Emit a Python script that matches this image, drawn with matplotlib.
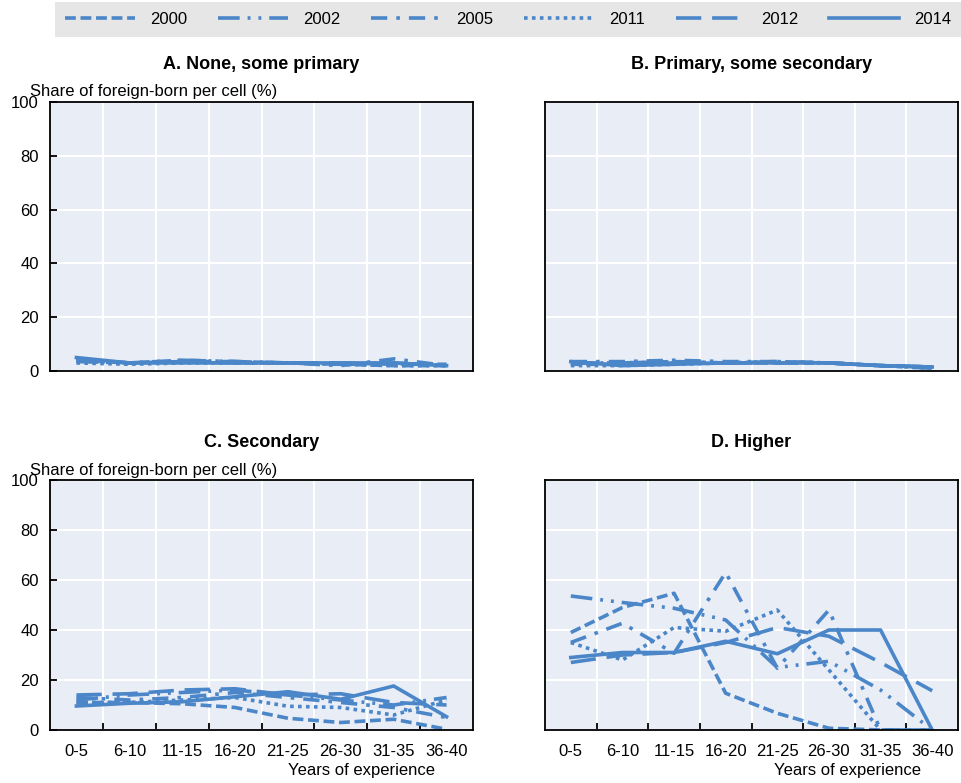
import matplotlib
matplotlib.use('Agg')
import matplotlib.pyplot as plt
import numpy as np

plt.rcParams['font.family'] = ['Liberation Sans Narrow', 'Liberation Sans', 'DejaVu Sans']
plt.rcParams['font.size'] = 12

# experience categories
categories = ['0-5', '6-10', '11-15', '16-20', '21-25', '26-30', '31-35', '36-40']
years = ['2000', '2002', '2005', '2011', '2012', '2014']

# A. None, some primary
a_2000 = [4.0, 3.0, 3.5, 3.0, 3.0, 2.5, 2.0, 2.0]
a_2002 = [3.5, 3.0, 4.0, 3.5, 3.0, 2.5, 3.0, 2.0]
a_2005 = [4.0, 3.0, 4.0, 3.5, 3.0, 2.0, 4.5, 2.0]
a_2011 = [3.0, 2.5, 3.0, 3.0, 3.0, 2.5, 2.0, 2.0]
a_2012 = [4.5, 3.0, 3.5, 3.5, 3.0, 3.0, 2.5, 2.5]
a_2014 = [5.0, 3.0, 3.0, 3.0, 3.0, 3.0, 3.0, 2.0]

# B. Primary, some secondary
b_2000 = [2.5, 2.5, 3.0, 3.0, 3.0, 3.0, 2.0, 1.5]
b_2002 = [3.0, 3.0, 3.5, 3.0, 3.0, 3.0, 2.0, 1.5]
b_2005 = [3.5, 3.5, 4.0, 3.5, 3.5, 3.0, 2.0, 1.0]
b_2011 = [2.0, 2.0, 2.5, 3.0, 3.5, 3.0, 2.0, 1.0]
b_2012 = [3.0, 3.0, 3.5, 3.0, 3.5, 3.0, 2.0, 1.5]
b_2014 = [3.5, 2.0, 2.5, 3.0, 3.0, 3.0, 2.0, 1.5]

# C. Secondary
c_2000 = [11.0, 11.0, 10.5, 9.0, 4.7, 3.0, 4.3, 0.3]
c_2002 = [12.0, 14.0, 15.0, 16.0, 14.0, 12.0, 10.0, 13.0]
c_2005 = [13.0, 12.0, 13.0, 15.0, 13.0, 11.0, 9.0, 5.0]
c_2011 = [11.0, 11.0, 12.0, 13.0, 9.5, 9.0, 6.0, 12.0]
c_2012 = [14.0, 14.5, 16.0, 16.5, 14.0, 14.5, 11.0, 10.0]
c_2014 = [9.6, 10.7, 11.3, 13.3, 15.3, 12.3, 17.6, 5.3]

# D. Higher
d_2000 = [39.0, 49.0, 54.7, 14.7, 6.7, 0.7, 0.0, 0.0]
d_2002 = [53.6, 51.0, 48.7, 44.0, 25.0, 27.5, 16.0, 0.0]
d_2005 = [35.0, 42.7, 30.7, 63.0, 24.7, 48.0, 0.0, 0.0]
d_2011 = [35.0, 28.0, 41.0, 39.5, 48.0, 24.0, 0.0, 0.0]
d_2012 = [27.0, 30.0, 31.0, 35.0, 41.0, 37.5, 27.0, 15.7]
d_2014 = [29.0, 31.0, 31.0, 35.5, 30.5, 40.0, 40.0, 0.0]

panels = [
    ('A. None, some primary', [a_2000, a_2002, a_2005, a_2011, a_2012, a_2014]),
    ('B. Primary, some secondary', [b_2000, b_2002, b_2005, b_2011, b_2012, b_2014]),
    ('C. Secondary', [c_2000, c_2002, c_2005, c_2011, c_2012, c_2014]),
    ('D. Higher', [d_2000, d_2002, d_2005, d_2011, d_2012, d_2014]),
]

COLOR = '#4A86C8'
BG = '#E9EDF6'
styles = [
    (0, (3, 1.3)),
    (0, (6, 2.2, 0.8, 2.2, 0.8, 2.2)),
    (0, (4.5, 2.5, 1, 2.5)),
    (0, (1, 1.2)),
    (0, (7, 3)),
    '-',
]

fig = plt.figure(figsize=(9.61, 7.83), dpi=100)

W, H = 961.0, 783.0
boxes = [
    (50, 102, 473, 371),
    (545, 102, 958, 371),
    (50, 480, 473, 730),
    (545, 480, 958, 730),
]

x = np.arange(len(categories))
lines = []
for i, (title, series) in enumerate(panels):
    l, t, r, b = boxes[i]
    ax = fig.add_axes([l / W, 1 - b / H, (r - l) / W, (b - t) / H])
    ax.set_facecolor(BG)
    lines = []
    for vals, ls, yr in zip(series, styles, years):
        ln, = ax.plot(x, vals, color=COLOR, lw=2.6, linestyle=ls, label=yr)
        lines.append(ln)
    ax.set_xlim(-0.5, len(categories) - 0.5)
    ax.set_ylim(0, 100)
    ax.set_yticks(np.arange(0, 101, 20))
    ax.set_xticks(np.arange(0.5, len(categories) - 0.5, 1))
    ax.set_xticks(x, minor=True)
    ax.grid(True, which='major', color='white', lw=1.5)
    ax.set_axisbelow(True)
    for sp in ax.spines.values():
        sp.set_color('black')
        sp.set_linewidth(1.3)
    ax.tick_params(axis='x', which='major', direction='in', length=5, width=1.3, labelbottom=False)
    ax.tick_params(axis='x', which='minor', length=0)
    ax.tick_params(axis='y', direction='in', length=5, width=1.3, pad=8)
    ax.set_title(title, fontweight='bold', fontsize=13, pad=24)

    if i >= 2:
        ax.set_xticklabels(categories, minor=True)
        ax.tick_params(axis='x', which='minor', labelsize=12, pad=10)
        ax.set_xlabel('Years of experience', fontsize=12)
        ax.xaxis.set_label_coords(0.91, -0.13)
        ax.xaxis.label.set_horizontalalignment('right')
    else:
        ax.tick_params(axis='x', which='major', length=0)

    if i % 2 == 0:
        ax.text(-0.047, 1.01, 'Share of foreign-born per cell (%)', transform=ax.transAxes,
                ha='left', va='bottom', fontsize=12)
    else:
        ax.tick_params(axis='y', length=0, labelleft=False)
        if i == 1:
            ax.tick_params(axis='x', which='major', length=0)
        else:
            ax.tick_params(axis='x', which='major', length=5)

leg = fig.legend(lines, years, loc='lower left', ncol=6, mode='expand',
                 bbox_to_anchor=(55 / W, 1 - 37 / H, 906 / W, 37 / H),
                 frameon=True, fancybox=False, facecolor='#E6E6E6', edgecolor='none',
                 handlelength=4.2, handletextpad=0.9, borderaxespad=0, fontsize=12,
                 borderpad=0.6)
leg.get_frame().set_alpha(1)

fig.savefig('out.png', dpi=100)
